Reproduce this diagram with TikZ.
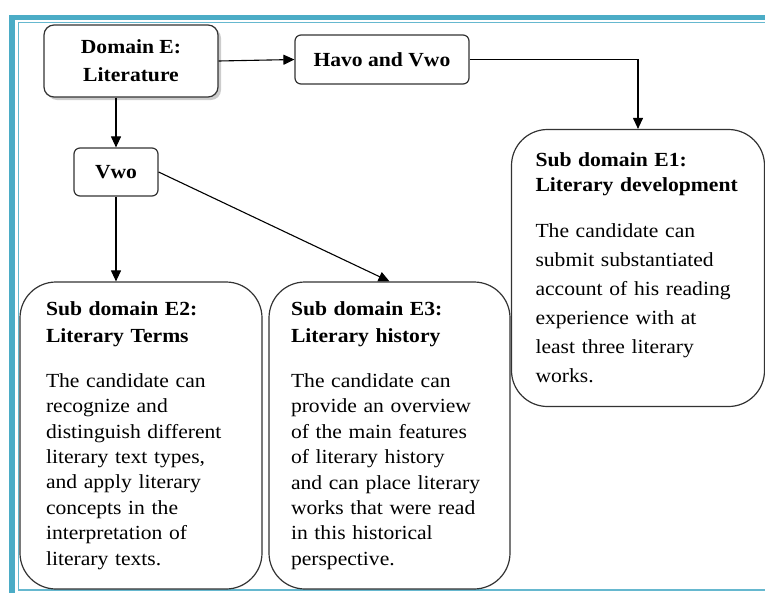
\documentclass[tikz,border=0pt]{standalone}
\usepackage{fontspec}
\setmainfont{Liberation Serif}[FakeStretch=1.08]
\usetikzlibrary{arrows.meta,shadows}
\definecolor{framecol}{HTML}{4BACC6}

\begin{document}
\begin{tikzpicture}[x=1pt, y=-1pt,
    topbox/.style={draw=black!80, line width=1.2pt, fill=white, align=center, inner sep=0pt, font=\bfseries\fontsize{20}{28}\selectfont},
    subbox/.style={draw=black!80, line width=1.2pt, fill=white, rounded corners=36pt, align=left, inner sep=0pt, font=\fontsize{20}{25.4}\selectfont},
    arr/.style={-{Triangle[length=11pt,width=10pt]}, line width=1.1pt}]
  \useasboundingbox (0,0) rectangle (765,592);
  \clip (0,0) rectangle (765,592);
  \draw[framecol, line width=5.5pt] (12,600) -- (12,17.5) -- (770,17.5);
  \draw[framecol!85, line width=1.5pt] (770,22.5) -- (18.5,22.5) -- (18.5,590) -- (770,590);

  \node[topbox, rounded corners=10pt, minimum width=174pt, minimum height=72pt, drop shadow={shadow xshift=3pt, shadow yshift=-3pt, fill=black!40}] (dome) at (131,61) {Domain E:\\Literature};
  \node[topbox, rounded corners=6pt, minimum width=174pt, minimum height=49pt] (havo) at (382,59.5) {Havo and Vwo};
  \node[topbox, rounded corners=6pt, minimum width=84pt, minimum height=48pt] (vwo) at (116,172) {Vwo};

  \node[subbox, text width=205pt, minimum width=253pt, minimum height=277pt, font=\fontsize{20}{29}\selectfont] (e1) at (638,268) {\textbf{Sub domain E1:}\\[-4pt]\textbf{Literary development}\\[17pt]The candidate can\\submit substantiated\\account of his reading\\experience with at\\least three literary\\works.};
  \node[subbox, text width=190pt, minimum width=242pt, minimum height=307pt] (e2) at (141,435.5) {\textbf{Sub domain E2:}\\[1.6pt]\textbf{Literary Terms}\\[19.6pt]The candidate can\\recognize and\\distinguish different\\literary text types,\\and apply literary\\concepts in the\\interpretation of\\literary texts.};
  \node[subbox, text width=197pt, minimum width=241pt, minimum height=307pt] (e3) at (389.5,435.5) {\textbf{Sub domain E3:}\\[1.6pt]\textbf{Literary history}\\[19.6pt]The candidate can\\provide an overview\\of the main features\\of literary history\\and can place literary\\works that were read\\in this historical\\perspective.};

  \draw[arr] (dome.east) -- (havo.west);
  \draw[arr] (havo.east) -| (e1.north);
  \draw[arr] (dome.south -| vwo.north) -- (vwo.north);
  \draw[arr] (vwo.south) -- (vwo.south |- e2.north);
  \draw[arr] (vwo.east) -- (e3.north);
\end{tikzpicture}
\end{document}
